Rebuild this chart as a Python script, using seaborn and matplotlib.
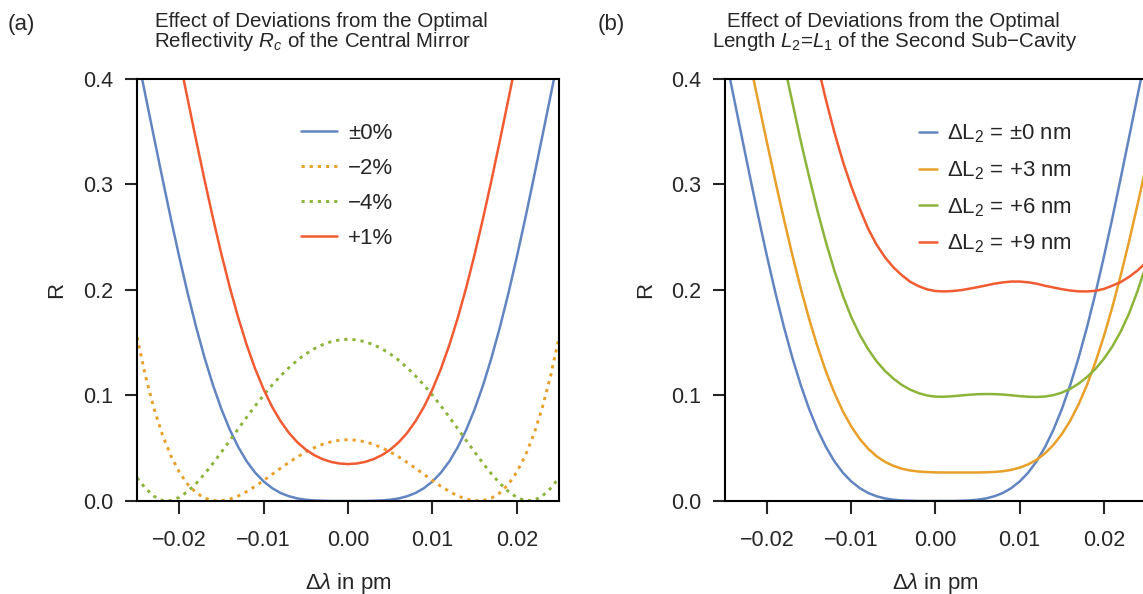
import numpy as np
import matplotlib
matplotlib.use("Agg")
from matplotlib import pyplot as plt
from matplotlib.ticker import FuncFormatter
import seaborn as sns

# detuning grid (pm), 0.001 pm steps
dlam = np.arange(-25, 26) * 0.001

# (a) deviations of the central mirror reflectivity
r_opt = [0.4236, 0.3843, 0.3450, 0.3060, 0.2679, 0.2314, 0.1969, 0.1649, 0.1358,
         0.1098, 0.0870, 0.0674, 0.0510, 0.0375, 0.0268, 0.0185, 0.0122, 0.0076,
         0.0045, 0.0024, 0.0012, 0.0005, 0.0002, 0.0000, 0.0000, 0.0000,
         0.0000, 0.0000, 0.0002, 0.0005, 0.0012, 0.0024, 0.0045, 0.0076, 0.0122,
         0.0185, 0.0268, 0.0375, 0.0510, 0.0674, 0.0870, 0.1098, 0.1358, 0.1649,
         0.1969, 0.2314, 0.2679, 0.3060, 0.3450, 0.3843, 0.4236]
r_m2 = [0.1552, 0.1185, 0.0879, 0.0629, 0.0429, 0.0274, 0.0158, 0.0078, 0.0028,
        0.0004, 0.0002, 0.0018, 0.0048, 0.0090, 0.0139, 0.0194, 0.0252, 0.0310,
        0.0366, 0.0418, 0.0465, 0.0505, 0.0538, 0.0561, 0.0576, 0.0581,
        0.0576, 0.0561, 0.0538, 0.0505, 0.0465, 0.0418, 0.0366, 0.0310, 0.0252,
        0.0194, 0.0139, 0.0090, 0.0048, 0.0018, 0.0002, 0.0004, 0.0028, 0.0078,
        0.0158, 0.0274, 0.0429, 0.0629, 0.0879, 0.1185, 0.1552]
r_m4 = [0.0220, 0.0120, 0.0045, 0.0005, 0.0004, 0.0034, 0.0090, 0.0166, 0.0256,
        0.0356, 0.0464, 0.0574, 0.0685, 0.0795, 0.0902, 0.1003, 0.1098, 0.1185,
        0.1264, 0.1334, 0.1394, 0.1443, 0.1482, 0.1510, 0.1527, 0.1533,
        0.1527, 0.1510, 0.1482, 0.1443, 0.1394, 0.1334, 0.1264, 0.1185, 0.1098,
        0.1003, 0.0902, 0.0795, 0.0685, 0.0574, 0.0464, 0.0356, 0.0256, 0.0166,
        0.0090, 0.0034, 0.0004, 0.0005, 0.0045, 0.0120, 0.0220]
r_p1 = [0.6050, 0.5710, 0.5350, 0.4977, 0.4592, 0.4201, 0.3808, 0.3420, 0.3042,
        0.2680, 0.2338, 0.2022, 0.1735, 0.1478, 0.1252, 0.1058, 0.0893, 0.0757,
        0.0645, 0.0556, 0.0487, 0.0434, 0.0396, 0.0370, 0.0355, 0.0350,
        0.0355, 0.0370, 0.0396, 0.0434, 0.0487, 0.0556, 0.0645, 0.0757, 0.0893,
        0.1058, 0.1252, 0.1478, 0.1735, 0.2022, 0.2338, 0.2680, 0.3042, 0.3420,
        0.3808, 0.4201, 0.4592, 0.4977, 0.5350, 0.5710, 0.6050]
labels_a = ["\u00b10%", "\u22122%", "\u22124%", "+1%"]

# (b) deviations of the second sub-cavity length
l_p3 = [0.5241, 0.4884, 0.4518, 0.4144, 0.3767, 0.3392, 0.3025, 0.2669, 0.2331,
        0.2014, 0.1723, 0.1460, 0.1225, 0.1023, 0.0850, 0.0706, 0.0589, 0.0496,
        0.0424, 0.0371, 0.0333, 0.0306, 0.0289, 0.0279, 0.0274, 0.0271,
        0.0270, 0.0270, 0.0270, 0.0270, 0.0270, 0.0272, 0.0275, 0.0282, 0.0295,
        0.0316, 0.0347, 0.0390, 0.0451, 0.0531, 0.0633, 0.0760, 0.0916, 0.1101,
        0.1316, 0.1562, 0.1836, 0.2138, 0.2464, 0.2810, 0.3170]
l_p6 = [0.663, 0.632, 0.599, 0.564, 0.528, 0.491, 0.453, 0.415, 0.378,
        0.341, 0.307, 0.2746, 0.2449, 0.2181, 0.1946, 0.1742, 0.1576, 0.1439,
        0.1324, 0.1233, 0.1160, 0.1100, 0.1055, 0.1022, 0.1000, 0.0989,
        0.0988, 0.0993, 0.1000, 0.1007, 0.1012, 0.1014, 0.1013, 0.1009, 0.1002,
        0.0994, 0.0988, 0.0986, 0.0990, 0.1003, 0.1027, 0.1063, 0.1112, 0.1175,
        0.1252, 0.1348, 0.1464, 0.1606, 0.1779, 0.1991, 0.2233]
l_p9 = [0.800, 0.774, 0.746, 0.715, 0.682, 0.646, 0.608, 0.569, 0.527,
        0.4879, 0.4497, 0.4135, 0.3798, 0.3492, 0.3218, 0.2980, 0.2771, 0.2580,
        0.2430, 0.2310, 0.2215, 0.2140, 0.2078, 0.2036, 0.2006, 0.1990,
        0.1986, 0.1990, 0.1998, 0.2012, 0.2027, 0.2043, 0.2060, 0.2072, 0.2080,
        0.2080, 0.2073, 0.2060, 0.2040, 0.2024, 0.2008, 0.1995, 0.1987, 0.1986,
        0.1992, 0.2010, 0.2041, 0.2075, 0.2125, 0.2185, 0.2260]
labels_b = ["$\\Delta$L$_2$ = \u00b10 nm", "$\\Delta$L$_2$ = +3 nm",
            "$\\Delta$L$_2$ = +6 nm", "$\\Delta$L$_2$ = +9 nm"]

blue, orange, green, red = "#6285c2", "#e8a02a", "#8db43a", "#f15b31"


def style_axis(ax, ylabel_x):
    ax.set_xlim(-0.025, 0.025)
    ax.set_ylim(0, 0.4)
    ax.set_xticks([-0.02, -0.01, 0.0, 0.01, 0.02])
    ax.set_yticks([0.0, 0.1, 0.2, 0.3, 0.4])
    ax.xaxis.set_major_formatter(
        FuncFormatter(lambda v, p: f"{v:.2f}".replace("-", "\u2212")))
    ax.yaxis.set_major_formatter(FuncFormatter(lambda v, p: f"{v:.1f}"))
    ax.tick_params(direction="out", length=9, width=1.5, labelsize=15.5)
    ax.tick_params(axis="x", pad=12)
    ax.tick_params(axis="y", pad=8)
    for s in ax.spines.values():
        s.set_linewidth(1.5)
        s.set_color("black")
    ax.set_xlabel("$\\Delta\\lambda$ in pm", fontsize=16)
    ax.set_ylabel("R", fontsize=16)
    ax.xaxis.set_label_coords(0.5, -0.165)
    ax.yaxis.set_label_coords(ylabel_x, 0.5)


def main():
    sns.set_style("ticks")
    plt.rcParams["font.family"] = ["Liberation Sans", "DejaVu Sans"]
    plt.rcParams["mathtext.fontset"] = "custom"
    plt.rcParams["mathtext.rm"] = "Liberation Sans"
    plt.rcParams["mathtext.it"] = "Liberation Sans:italic"

    fig = plt.figure(figsize=(11.43, 5.94), dpi=100)
    ax1 = fig.add_axes([0.1199, 0.1566, 0.3692, 0.7104])
    ax2 = fig.add_axes([0.6343, 0.1566, 0.3683, 0.7104])

    dots = (0, (1.1, 1.7))
    lw = 1.8
    sns.lineplot(x=dlam, y=r_opt, ax=ax1, color=blue, lw=lw, label=labels_a[0])
    sns.lineplot(x=dlam, y=r_m2, ax=ax1, color=orange, lw=2.1, linestyle=dots,
                 label=labels_a[1])
    sns.lineplot(x=dlam, y=r_m4, ax=ax1, color=green, lw=2.1, linestyle=dots,
                 label=labels_a[2])
    sns.lineplot(x=dlam, y=r_p1, ax=ax1, color=red, lw=lw, label=labels_a[3])

    for ys, c, lab in zip([r_opt, l_p3, l_p6, l_p9],
                          [blue, orange, green, red], labels_b):
        sns.lineplot(x=dlam, y=ys, ax=ax2, color=c, lw=lw, label=lab)

    style_axis(ax1, -0.166)
    style_axis(ax2, -0.163)

    ax1.legend(loc="upper left", bbox_to_anchor=(0.389, 0.896), frameon=False,
               fontsize=16, handlelength=1.6, handletextpad=0.5,
               labelspacing=0.63, borderpad=0, borderaxespad=0)
    ax2.legend(loc="upper left", bbox_to_anchor=(0.461, 0.896), frameon=False,
               fontsize=16, handlelength=0.8, handletextpad=0.45,
               labelspacing=0.63, borderpad=0, borderaxespad=0)

    tkw = dict(fontsize=14.8, ha="center", va="baseline")
    fig.text(0.2808, 0.954, "Effect of Deviations from the Optimal", **tkw)
    fig.text(0.273, 0.9214, "Reflectivity $R_c$ of the Central Mirror", **tkw)
    fig.text(0.7813, 0.954, "Effect of Deviations from the Optimal", **tkw)
    fig.text(0.7826, 0.9214,
             "Length $L_2$=$L_1$ of the Second Sub\u2212Cavity", **tkw)
    fig.text(8 / 1143, 0.95, "(a)", fontsize=16, va="baseline")
    fig.text(598 / 1143, 0.95, "(b)", fontsize=16, va="baseline")

    fig.savefig("out.png", dpi=100)


if __name__ == "__main__":
    main()
